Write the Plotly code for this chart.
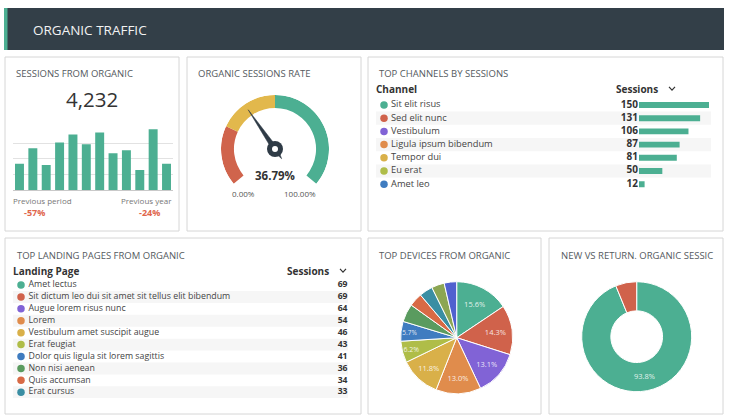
import plotly.graph_objects as go

W, H = 730, 418

# ---------------- data ----------------
bar_periods = list(range(1, 13))
bar_sessions = [168, 268, 160, 306, 357, 294, 370, 236, 255, 128, 391, 168]
bar_grid = [100, 200, 300, 400]
total_sessions = "4,232"
prev_period_change = "-57%"
prev_year_change = "-24%"

gauge_value = 36.79
gauge_band_edges = [0, 25, 50, 100]
gauge_min_label = "0.00%"
gauge_max_label = "100.00%"

channels = ["Sit elit risus", "Sed elit nunc", "Vestibulum", "Ligula ipsum bibendum",
            "Tempor dui", "Eu erat", "Amet leo"]
channel_sessions = [150, 131, 106, 87, 81, 50, 12]

pages = ["Amet lectus", "Sit dictum leo dui sit amet sit tellus elit bibendum",
         "Augue lorem risus nunc", "Lorem", "Vestibulum amet suscipit augue",
         "Erat feugiat", "Dolor quis ligula sit lorem sagittis", "Non nisi aenean",
         "Quis accumsan", "Erat cursus"]
page_sessions = [69, 69, 64, 54, 46, 43, 41, 36, 34, 33]

devices = ["Device A", "Device B", "Device C", "Device D", "Device E", "Device F",
           "Device G", "Device H", "Device I", "Device J", "Device K", "Device L"]
device_share = [15.6, 14.3, 13.1, 13.0, 11.8, 6.2, 5.7, 5.2, 3.9, 3.9, 3.7, 3.6]

visitor_types = ["New", "Returning"]
visitor_share = [93.8, 6.2]

# ---------------- styles ----------------
GREEN = "#4caf92"
palette = ["#4caf92", "#d0624b", "#8163d6", "#e08c4c", "#d9b049", "#afbd48",
           "#3f7cc0", "#5a9b5f", "#d86a45", "#3a8ea3", "#8ca653", "#5061cf"]
gauge_colors = ["#d0644c", "#e2b84c", "#4caf92"]
DARK = "#2f3b46"
FONT = "Open Sans"
TITLE_C = "#555a60"
TITLE_S = 9.5
ROW_S = 9.3
HEAD_S = 10
NUM_S = 10
ROW_S2 = 8.8
NUM_S2 = 8.6


def px(x):
    return x / W


def py(y):
    return 1 - y / H


fig = go.Figure()
shapes = []
annotations = []


def ann(text, x, y, size=8.5, color="#444", xanchor="left", family=FONT):
    if xanchor == "left":
        x -= 2
    elif xanchor == "right":
        x += 2
    annotations.append(dict(text=text, x=px(x), y=py(y), xref="paper", yref="paper",
                            xanchor=xanchor, yanchor="middle", showarrow=False,
                            font=dict(size=size, color=color, family=family)))


def chevron(x, y):
    shapes.append(dict(type="path", xref="paper", yref="paper",
                       path="M %f,%f L %f,%f L %f,%f" % (px(x - 3), py(y - 1.6), px(x), py(y + 1.6),
                                                        px(x + 3), py(y - 1.6)),
                       line=dict(color="#333", width=1.2)))


# header band
shapes.append(dict(type="rect", xref="paper", yref="paper", x0=px(4), x1=px(724),
                   y0=py(50), y1=py(8), fillcolor="#333f48", line=dict(width=0)))
shapes.append(dict(type="rect", xref="paper", yref="paper", x0=px(4), x1=px(7.5),
                   y0=py(50), y1=py(8), fillcolor="#4caf92", line=dict(width=0)))
ann("ORGANIC TRAFFIC", 33, 29.5, size=13.5, color="#f2f2f2")

# panels
panels = [(5, 179, 57, 231), (187, 361, 57, 231), (368, 723, 57, 231),
          (5, 361, 238, 414), (368, 541, 238, 414), (549, 723, 238, 414)]
for x0, x1, y0, y1 in panels:
    shapes.append(dict(type="rect", xref="paper", yref="paper", x0=px(x0), x1=px(x1),
                       y0=py(y1), y1=py(y0), fillcolor="white",
                       line=dict(color="#d6d6d6", width=1), layer="below"))

# titles
ann("SESSIONS FROM ORGANIC", 16, 73.5, size=TITLE_S, color=TITLE_C)
ann("ORGANIC SESSIONS RATE", 198, 73.5, size=TITLE_S, color=TITLE_C)
ann("TOP CHANNELS BY SESSIONS", 379, 73.5, size=TITLE_S, color=TITLE_C)
ann("TOP LANDING PAGES FROM ORGANIC", 17, 255, size=TITLE_S, color=TITLE_C)
ann("TOP DEVICES FROM ORGANIC", 379, 255, size=TITLE_S, color=TITLE_C)
ann("NEW VS RETURN. ORGANIC SESSIC", 561, 255, size=TITLE_S, color=TITLE_C)

# ---------------- panel 1: sessions ----------------
ann(total_sessions, 92, 98.5, size=20.5, color="#333", xanchor="center")
fig.add_trace(go.Bar(x=bar_periods, y=bar_sessions, marker=dict(color=GREEN, line=dict(width=0)),
                     width=0.67, xaxis="x", yaxis="y", hoverinfo="skip"))
ann("Previous period", 13, 200, size=8, color="#777")
ann("Previous year", 172, 200, size=8, color="#777", xanchor="right")
ann("<b>" + prev_period_change + "</b>", 34.5, 212, size=9, color="#e0664c", xanchor="center")
ann("<b>" + prev_year_change + "</b>", 149.5, 212, size=9, color="#e0664c", xanchor="center")

# ---------------- panel 2: gauge ----------------
SPAN = 260.0
gcx, gcy, gr = 275, 149, 54
for i in range(len(gauge_colors)):
    a, b = gauge_band_edges[i], gauge_band_edges[i + 1]
    fig.add_trace(go.Barpolar(r=[0.24], base=[0.76], theta=[(a + b) / 2 * SPAN / 100],
                              width=[(b - a) * SPAN / 100], marker=dict(color=gauge_colors[i], line=dict(width=0)),
                              subplot="polar", hoverinfo="skip"))
tn = gauge_value * SPAN / 100
fig.add_trace(go.Scatterpolar(r=[0.88, 0.05, 0.22, 0.05, 0.88],
                              theta=[tn, tn + 90, tn + 180, tn - 90, tn],
                              mode="lines", fill="toself", fillcolor=DARK,
                              line=dict(color=DARK, width=0.5), subplot="polar", hoverinfo="skip"))
fig.add_trace(go.Scatterpolar(r=[0], theta=[0], mode="markers",
                              marker=dict(size=16, color=DARK), subplot="polar", hoverinfo="skip"))
fig.add_trace(go.Scatterpolar(r=[0], theta=[0], mode="markers",
                              marker=dict(size=6, color="white"), subplot="polar", hoverinfo="skip"))
ann("<b>%.2f%%</b>" % gauge_value, 275, 175, size=11.5, color="#333", xanchor="center")
ann(gauge_min_label, 243.5, 193, size=8, color="#555", xanchor="center")
ann(gauge_max_label, 300, 193, size=8, color="#555", xanchor="center")

# ---------------- panel 3: channels table ----------------
nc = len(channels)
cidx = list(range(nc))
for i in range(1, nc, 2):
    shapes.append(dict(type="rect", xref="x2 domain", yref="y2", x0=0, x1=1,
                       y0=i - 0.5, y1=i + 0.5, fillcolor="#f6f6f6", line=dict(width=0), layer="below"))
fig.add_trace(go.Scatter(x=[384] * nc, y=cidx, mode="markers",
                         marker=dict(size=7.5, color=palette[:nc]), xaxis="x2", yaxis="y2", hoverinfo="skip"))
fig.add_trace(go.Scatter(x=[391] * nc, y=cidx, mode="text", text=channels, textposition="middle right",
                         textfont=dict(size=ROW_S, color="#444", family=FONT), xaxis="x2", yaxis="y2", hoverinfo="skip"))
fig.add_trace(go.Scatter(x=[638] * nc, y=cidx, mode="text", text=["<b>%d</b>" % v for v in channel_sessions],
                         textposition="middle left", textfont=dict(size=NUM_S, color="#333", family=FONT),
                         xaxis="x2", yaxis="y2", hoverinfo="skip"))
fig.add_trace(go.Bar(x=channel_sessions, y=cidx, orientation="h", width=0.45,
                     marker=dict(color=GREEN, line=dict(width=0)), xaxis="x3", yaxis="y2", hoverinfo="skip"))
ann("<b>Channel</b>", 376, 89, size=HEAD_S, color="#333")
ann("<b>Sessions</b>", 616, 89, size=HEAD_S, color="#333")
chevron(672, 88.5)

# ---------------- panel 4: landing pages table ----------------
npg = len(pages)
pidx = list(range(npg))
for i in range(1, npg, 2):
    shapes.append(dict(type="rect", xref="x4 domain", yref="y4", x0=0, x1=1,
                       y0=i - 0.5, y1=i + 0.5, fillcolor="#f6f6f6", line=dict(width=0), layer="below"))
fig.add_trace(go.Scatter(x=[21] * npg, y=pidx, mode="markers",
                         marker=dict(size=7.5, color=palette[:npg]), xaxis="x4", yaxis="y4", hoverinfo="skip"))
fig.add_trace(go.Scatter(x=[28.5] * npg, y=pidx, mode="text", text=pages, textposition="middle right",
                         textfont=dict(size=ROW_S2, color="#444", family=FONT), xaxis="x4", yaxis="y4", hoverinfo="skip"))
fig.add_trace(go.Scatter(x=[347.5] * npg, y=pidx, mode="text", text=["<b>%d</b>" % v for v in page_sessions],
                         textposition="middle left", textfont=dict(size=NUM_S2, color="#333", family=FONT),
                         xaxis="x4", yaxis="y4", hoverinfo="skip"))
ann("<b>Landing Page</b>", 13, 271, size=HEAD_S, color="#333")
ann("<b>Sessions</b>", 287, 271, size=HEAD_S, color="#333")
chevron(343, 270.5)

# ---------------- panel 5: devices pie ----------------
dcx, dcy, dr = 456.7, 337.7, 56
fig.add_trace(go.Pie(values=device_share, labels=devices, sort=False, direction="clockwise", rotation=0,
                     marker=dict(colors=palette, line=dict(color="white", width=1)),
                     text=["%.1f%%" % v if v >= 5.5 else "" for v in device_share],
                     textinfo="text", textposition="inside", insidetextorientation="horizontal",
                     insidetextfont=dict(size=7.5, color="rgba(255,255,255,0.85)", family=FONT),
                     domain=dict(x=[px(dcx - dr), px(dcx + dr)], y=[py(dcy + dr), py(dcy - dr)]),
                     hoverinfo="skip", showlegend=False))

# ---------------- panel 6: new vs returning donut ----------------
ncx, ncy, nr = 636.7, 336.7, 55
fig.add_trace(go.Pie(values=visitor_share, labels=visitor_types, sort=False, direction="clockwise", rotation=0,
                     hole=0.47, marker=dict(colors=[GREEN, "#d0624b"], line=dict(color="white", width=1)),
                     text=["%.1f%%" % v if v >= 10 else "" for v in visitor_share],
                     textinfo="text", textposition="inside", insidetextorientation="horizontal",
                     insidetextfont=dict(size=7.5, color="rgba(255,255,255,0.85)", family=FONT),
                     domain=dict(x=[px(ncx - nr), px(ncx + nr)], y=[py(ncy + nr), py(ncy - nr)]),
                     hoverinfo="skip", showlegend=False))

hidden = dict(visible=False, showgrid=False, zeroline=False, fixedrange=True)

fig.update_layout(
    width=W, height=H, margin=dict(l=0, r=0, t=0, b=0),
    paper_bgcolor="white", plot_bgcolor="rgba(0,0,0,0)",
    showlegend=False, barmode="overlay",
    font=dict(family=FONT, color="#444"),
    shapes=shapes, annotations=annotations,
    xaxis=dict(domain=[px(12.8), px(173.2)], range=[0.5, 12.5], **hidden, anchor="y"),
    yaxis=dict(domain=[py(190), py(127.7)], range=[0, 400.5], tickvals=bar_grid, showgrid=True,
               gridcolor="#e2e2e2", gridwidth=1, zeroline=True, zerolinecolor="#c9c9c9", zerolinewidth=1,
               showticklabels=False, ticks="", fixedrange=True, anchor="x", showline=False),
    xaxis2=dict(domain=[px(376), px(711)], range=[376, 711], anchor="y2", **hidden),
    yaxis2=dict(domain=[py(190.8), py(98.4)], range=[nc - 0.5, -0.5], anchor="x2", **hidden),
    xaxis3=dict(domain=[px(639), px(709)], range=[0, 150], anchor="y2", **hidden),
    xaxis4=dict(domain=[px(13), px(348)], range=[13, 348], anchor="y4", **hidden),
    yaxis4=dict(domain=[py(285 - 5.96 + 11.92 * npg), py(285 - 5.96)], range=[npg - 0.5, -0.5], anchor="x4", **hidden),
    polar=dict(domain=dict(x=[px(gcx - gr), px(gcx + gr)], y=[py(gcy + gr), py(gcy - gr)]),
               bgcolor="rgba(0,0,0,0)",
               radialaxis=dict(visible=False, range=[0, 1]),
               angularaxis=dict(visible=False, rotation=220, direction="clockwise")),
)

fig.write_html("out.html", config={"displayModeBar": False, "staticPlot": True},
               post_script="document.body.style.margin='0';document.body.style.overflow='hidden';")
